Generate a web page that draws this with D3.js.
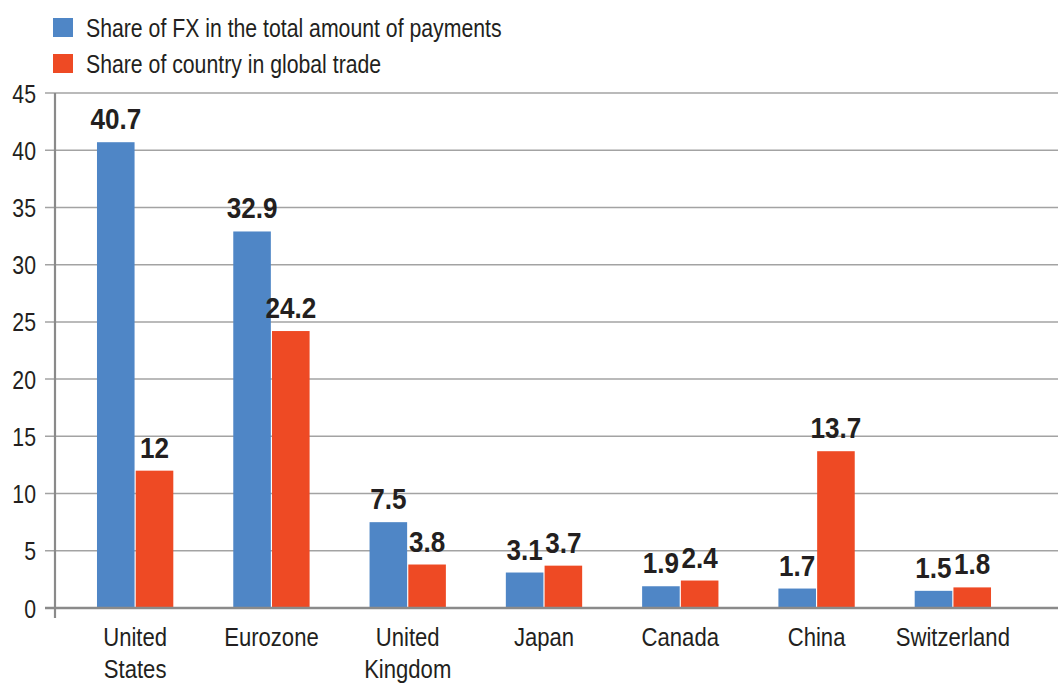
<!DOCTYPE html>
<html><head><meta charset="utf-8">
<script src="https://cdn.jsdelivr.net/npm/d3@7"></script>
<style>
html,body{margin:0;padding:0;background:#fff;}
svg{display:block;font-family:"Liberation Sans",Arial,sans-serif;}
</style></head>
<body>
<svg id="chart" width="1058" height="684"></svg>
<script>
const categories = ["United States","Eurozone","United Kingdom","Japan","Canada","China","Switzerland"];
const seriesNames = ["Share of FX in the total amount of payments","Share of country in global trade"];
const fxShare = [40.7, 32.9, 7.5, 3.1, 1.9, 1.7, 1.5];
const tradeShare = [12, 24.2, 3.8, 3.7, 2.4, 13.7, 1.8];
const valueLabels = [["40.7","32.9","7.5","3.1","1.9","1.7","1.5"],["12","24.2","3.8","3.7","2.4","13.7","1.8"]];
const yTicks = [0,5,10,15,20,25,30,35,40,45];
const colors = ["#4f86c6","#ee4a24"];

const SX = 0.85; // horizontal condensing to mimic a condensed face
const svg = d3.select("#chart");
const textColor = "#231f20";
const y = d3.scaleLinear().domain([0,45]).range([608,93]);
const x = d3.scaleBand().domain(categories).range([67,1021]).paddingInner(0.44).paddingOuter(0.22);
const xs = d3.scaleBand().domain([0,1]).range([0,x.bandwidth()]).paddingInner(0.03);

function ctext(g, px, py, sx){
  return g.append("text").attr("transform",`translate(${px},${py}) scale(${sx||SX},1)`);
}

// gridlines
svg.append("g").selectAll("line").data(yTicks.filter(d=>d>0)).join("line")
  .attr("x1",45).attr("x2",1058).attr("y1",d=>y(d)).attr("y2",d=>y(d))
  .attr("stroke","#a3a3a3").attr("stroke-width",1.5);

// y axis labels
const yAxis = d3.axisLeft(y).tickValues(yTicks).tickSize(0).tickPadding(0);
const gy = svg.append("g").attr("transform","translate(36,0)").call(yAxis);
gy.select(".domain").remove();
gy.selectAll("text").attr("font-size",25).attr("fill",textColor).attr("font-family",null)
  .attr("dy","0.36em").attr("transform",`scale(${SX},1)`);

// bars
const series = [fxShare, tradeShare];
series.forEach((vals,si)=>{
  svg.append("g").selectAll("rect").data(vals).join("rect")
    .attr("x",(d,i)=>x(categories[i])+xs(si))
    .attr("width",xs.bandwidth())
    .attr("y",d=>y(d)).attr("height",d=>y(0)-y(d))
    .attr("fill",colors[si]);
  const lg = svg.append("g");
  vals.forEach((d,i)=>{
    ctext(lg, x(categories[i])+xs(si)+xs.bandwidth()/2, y(d)-13, 0.9)
      .attr("text-anchor","middle").attr("font-weight","bold").attr("font-size",29)
      .attr("fill",textColor).text(valueLabels[si][i]);
  });
});

// axes lines
svg.append("line").attr("x1",55).attr("x2",55).attr("y1",93).attr("y2",618).attr("stroke","#8a8a8a").attr("stroke-width",2.2);
svg.append("line").attr("x1",45).attr("x2",1058).attr("y1",y(0)).attr("y2",y(0)).attr("stroke","#8a8a8a").attr("stroke-width",2.5);

// x labels
const catLines = {"United States":["United","States"],"United Kingdom":["United","Kingdom"]};
const xl = svg.append("g");
categories.forEach(c=>{
  const lines = catLines[c] || [c];
  const t = ctext(xl, x(c)+x.bandwidth()/2, 646)
    .attr("text-anchor","middle").attr("font-size",26).attr("fill",textColor);
  lines.forEach((l,i)=>t.append("tspan").attr("x",0).attr("dy",i===0?0:32).text(l));
});

// legend
const lg = svg.append("g");
seriesNames.forEach((n,i)=>{
  lg.append("rect").attr("x",53).attr("y",18+i*36).attr("width",20).attr("height",19).attr("fill",colors[i]);
  ctext(lg, 86, 37+i*36).attr("font-size",25).attr("fill",textColor).text(n);
});
</script>
</body></html>
